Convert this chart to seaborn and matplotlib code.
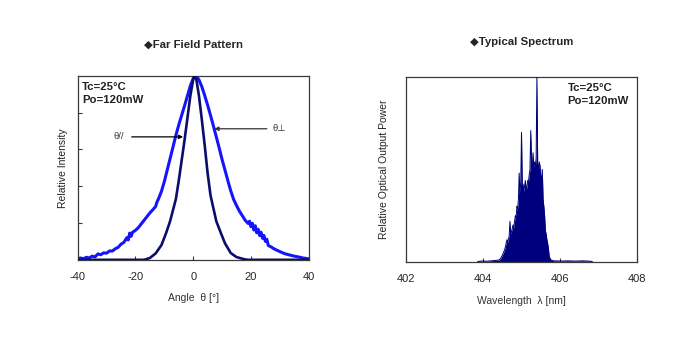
import numpy as np
import pandas as pd
import seaborn as sns
import matplotlib.pyplot as plt

# ------------------------------------------------------------
# Far field pattern (relative intensity vs angle)
# ------------------------------------------------------------
PERP_ANGLE = [
    -40.0, -39.0, -38.0, -37.0, -36.0, -35.0, -34.0, -33.0, -32.0, -31.0,
    -30.0, -29.0, -28.0, -27.0, -26.0, -25.0, -24.0, -23.0, -22.5, -22.0,
    -21.5, -21.0, -20.0, -19.0, -18.0, -17.0, -16.0, -15.0, -14.0, -13.0,
    -12.6, -12.0, -11.0, -10.0, -9.0, -8.0, -7.0, -6.0, -5.0, -4.0,
    -3.0, -2.0, -1.0, 0.0, 1.0, 2.0, 3.0, 4.0, 5.0, 6.0,
    7.0, 8.0, 9.0, 10.0, 11.0, 12.0, 13.0, 14.0, 15.0, 16.0,
    17.0, 18.0, 19.0, 19.5, 20.0, 20.5, 21.0, 21.5, 22.0, 22.5,
    23.0, 23.5, 24.0, 24.5, 25.0, 25.5, 26.0, 27.0, 28.0, 29.0,
    30.0, 31.0, 32.0, 33.0, 34.0, 35.0, 36.0, 37.0, 38.0, 39.0, 40.0,
]
PERP_INTENSITY = [
    0.005, 0.010, 0.006, 0.014, 0.010, 0.020, 0.016, 0.032, 0.028, 0.038,
    0.036, 0.048, 0.048, 0.060, 0.068, 0.085, 0.095, 0.120, 0.108, 0.145,
    0.128, 0.150, 0.160, 0.175, 0.195, 0.215, 0.235, 0.255, 0.272, 0.290,
    0.312, 0.332, 0.372, 0.425, 0.488, 0.550, 0.613, 0.676, 0.733, 0.785,
    0.837, 0.890, 0.945, 0.985, 1.000, 0.978, 0.940, 0.892, 0.840, 0.785,
    0.727, 0.668, 0.608, 0.545, 0.488, 0.430, 0.375, 0.328, 0.295, 0.265,
    0.240, 0.215, 0.198, 0.210, 0.180, 0.198, 0.162, 0.185, 0.147, 0.166,
    0.132, 0.150, 0.117, 0.132, 0.100, 0.112, 0.078, 0.070, 0.060, 0.052,
    0.045, 0.038, 0.032, 0.028, 0.024, 0.020, 0.017, 0.014, 0.010, 0.008, 0.005,
]

PARA_ANGLE = [
    -40.0, -17.0, -15.0, -13.0, -11.0, -9.4, -8.0, -7.0, -6.0, -5.0,
    -4.0, -3.0, -2.0, -1.0, 0.0, 0.5, 1.0, 2.0, 3.0, 4.0,
    5.0, 6.0, 7.0, 8.0, 9.6, 11.0, 13.0, 15.0, 17.7, 19.0, 40.0,
]
PARA_INTENSITY = [
    0.000, 0.000, 0.010, 0.035, 0.080, 0.145, 0.210, 0.270, 0.330, 0.430,
    0.540, 0.650, 0.770, 0.890, 0.980, 1.000, 0.990, 0.890, 0.760, 0.620,
    0.470, 0.350, 0.280, 0.210, 0.145, 0.090, 0.037, 0.015, 0.003, 0.000, 0.000,
]

# ------------------------------------------------------------
# Typical spectrum (relative optical output power vs wavelength)
# ------------------------------------------------------------
SPEC_WL = [
    403.85, 403.90, 404.00, 404.10, 404.20, 404.30,
    404.40, 404.42, 404.44, 404.46, 404.48, 404.50, 404.52, 404.54, 404.56, 404.58,
    404.60, 404.62, 404.64, 404.66, 404.68, 404.70, 404.72, 404.74, 404.76, 404.78,
    404.80, 404.82, 404.84, 404.86, 404.88, 404.90, 404.92, 404.94, 404.96, 404.98,
    405.00, 405.02, 405.04, 405.06, 405.08, 405.10, 405.12, 405.14, 405.16, 405.18,
    405.20, 405.22, 405.24, 405.26, 405.28, 405.30, 405.32, 405.34, 405.36, 405.38,
    405.40, 405.42, 405.44, 405.46, 405.48, 405.50, 405.52, 405.54, 405.56, 405.58,
    405.60, 405.62, 405.64, 405.66, 405.68, 405.70, 405.72, 405.74, 405.76, 405.78,
    405.80, 405.82, 405.84,
    405.90, 406.00, 406.20, 406.40, 406.60, 406.80, 406.85,
]
SPEC_POWER = [
    0.000, 0.004, 0.005, 0.004, 0.006, 0.008,
    0.010, 0.012, 0.015, 0.020, 0.028, 0.035, 0.045, 0.055, 0.065, 0.080,
    0.100, 0.120, 0.105, 0.125, 0.140, 0.220, 0.150, 0.165, 0.180, 0.200,
    0.180, 0.220, 0.250, 0.240, 0.300, 0.290, 0.340, 0.480, 0.380, 0.420,
    0.700, 0.400, 0.420, 0.380, 0.410, 0.440, 0.390, 0.400, 0.440, 0.430,
    0.470, 0.500, 0.710, 0.530, 0.520, 0.590, 0.510, 0.540, 0.520, 0.560,
    1.000, 0.530, 0.500, 0.540, 0.520, 0.460, 0.440, 0.500, 0.340, 0.300,
    0.250, 0.170, 0.150, 0.120, 0.100, 0.070, 0.030, 0.020, 0.012, 0.010,
    0.008, 0.007, 0.006,
    0.006, 0.005, 0.006, 0.005, 0.006, 0.004, 0.000,
]

C_PERP = "#1414ff"
C_PARA = "#0c0c6e"
C_SPEC = "#00007f"
C_FRAME = "#3a3a3a"

sns.set_theme(style="white")
plt.rcParams["font.family"] = ["Liberation Sans", "DejaVu Sans"]
plt.rcParams["axes.unicode_minus"] = False

fig = plt.figure(figsize=(7.0, 3.54), dpi=100)
ax1 = fig.add_axes([0.111, 0.266, 0.330, 0.520])
ax2 = fig.add_axes([0.580, 0.260, 0.330, 0.523])

df_perp = pd.DataFrame({"angle": PERP_ANGLE, "intensity": PERP_INTENSITY})
df_para = pd.DataFrame({"angle": PARA_ANGLE, "intensity": PARA_INTENSITY})
df_spec = pd.DataFrame({"wl": SPEC_WL, "power": SPEC_POWER})

# ---- far field ----
sns.lineplot(data=df_para, x="angle", y="intensity", ax=ax1, color=C_PARA,
             lw=1.9, estimator=None, sort=False, zorder=3,
             solid_joinstyle="round")
sns.lineplot(data=df_perp, x="angle", y="intensity", ax=ax1, color=C_PERP,
             lw=2.2, estimator=None, sort=False, zorder=2,
             solid_joinstyle="round")

ax1.set_xlim(-40, 40)
ax1.set_ylim(0, 1.0)
ax1.set_xticks([-40, -20, 0, 20, 40])
ax1.set_yticks([0.2, 0.4, 0.6, 0.8])
ax1.set_yticklabels([])
ax1.tick_params(axis="both", direction="in", length=3, width=0.8, color=C_FRAME,
                labelsize=8, pad=9)
ax1.tick_params(axis="x", bottom=True)
ax1.tick_params(axis="y", left=True, pad=2)
ax1.set_xlabel("Angle  θ [°]", fontsize=7.5, color="#333333", labelpad=8)
ax1.set_ylabel("Relative Intensity", fontsize=7.5, color="#222222", labelpad=5)
ax1.set_title("◆Far Field Pattern", fontsize=8.2, fontweight="bold", pad=20)

ax1.text(-38.5, 0.965, "Tc=25°C\nPo=120mW", fontsize=8.2, fontweight="bold",
         va="top", ha="left", linespacing=1.3, color="#222222")

ax1.annotate("", xy=(-3.5, 0.668), xytext=(-21.3, 0.668),
             arrowprops=dict(arrowstyle="-|>", lw=0.9, color="black",
                             mutation_scale=6, shrinkA=0, shrinkB=0))
ax1.text(-27.5, 0.668, "θ//", fontsize=6.8, va="center", ha="left", color="#333333")
ax1.annotate("", xy=(7.3, 0.712), xytext=(25.5, 0.712),
             arrowprops=dict(arrowstyle="-|>", lw=0.9, color="#333333",
                             mutation_scale=6, shrinkA=0, shrinkB=0))
ax1.text(27.5, 0.712, "θ⊥", fontsize=6.8, va="center", ha="left", color="#333333")

# ---- spectrum ----
ax2.fill_between(df_spec["wl"], 0, df_spec["power"], color=C_SPEC, lw=0, zorder=2)
sns.lineplot(data=df_spec, x="wl", y="power", ax=ax2, color=C_SPEC,
             lw=0.7, estimator=None, sort=False, zorder=3)

ax2.set_xlim(402, 408)
ax2.set_ylim(0, 1.0)
ax2.set_xticks([402, 404, 406, 408])
ax2.set_yticks([])
ax2.tick_params(axis="x", direction="in", length=3, width=0.8, color=C_FRAME,
                labelsize=8, pad=9, bottom=True)
ax2.set_xlabel("Wavelength  λ [nm]", fontsize=7.5, color="#333333", labelpad=8)
ax2.set_ylabel("Relative Optical Output Power", fontsize=7.5, color="#222222",
               labelpad=12)
ax2.set_title("◆Typical Spectrum", fontsize=8.2, fontweight="bold", pad=23)
ax2.text(406.2, 0.965, "Tc=25°C\nPo=120mW", fontsize=8.2, fontweight="bold",
         va="top", ha="left", linespacing=1.3, color="#222222")

for ax in (ax1, ax2):
    for sp in ax.spines.values():
        sp.set_color(C_FRAME)
        sp.set_linewidth(0.9)
    ax.set_facecolor("white")

fig.savefig("out.png", dpi=100, facecolor="white")
plt.close(fig)
